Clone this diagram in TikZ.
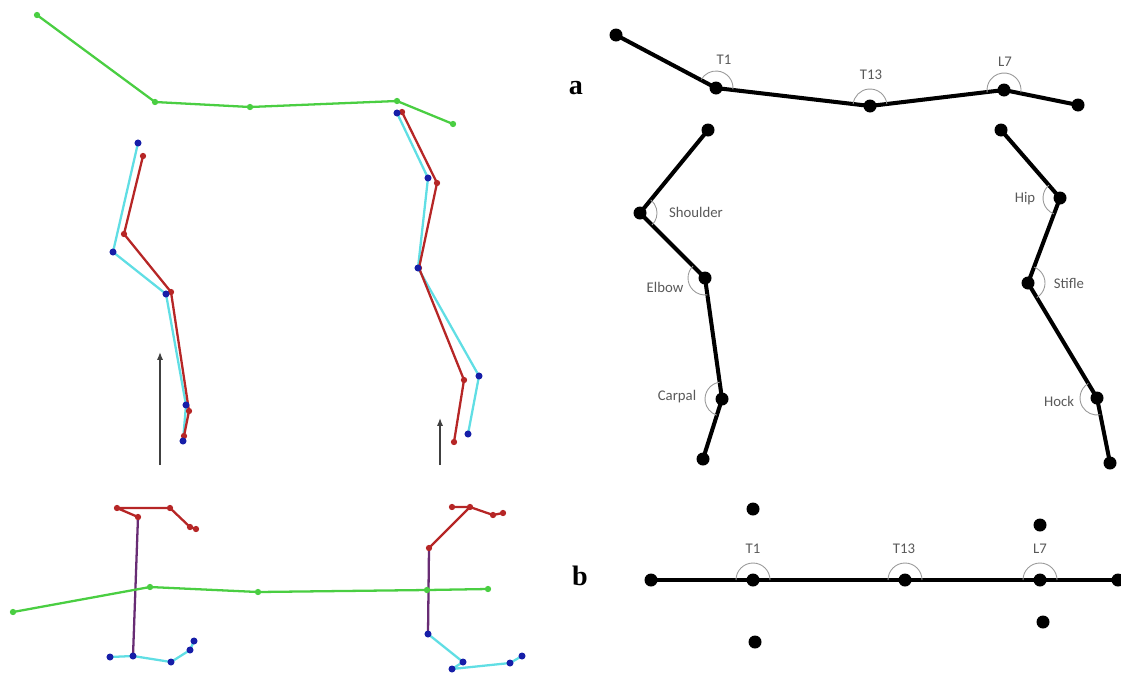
\documentclass[tikz,border=0pt]{standalone}
\usepackage{fontspec}
\newfontfamily\lblfont{Carlito}
\newfontfamily\panelfont{Liberation Serif}
\usetikzlibrary{arrows.meta}
\definecolor{spinegreen}{RGB}{74,206,66}
\definecolor{legcyan}{RGB}{96,222,228}
\definecolor{legred}{RGB}{182,38,38}
\definecolor{jointblue}{RGB}{22,30,168}
\definecolor{legpurple}{RGB}{104,44,116}

\begin{document}
\begin{tikzpicture}[x=0.02cm, y=-0.02cm,
  track/.style={line width=1.3pt, line join=round},
  bone/.style={line width=2.3pt, line join=round},
  jarc/.style={gray!80, line width=0.5pt},
  lbl/.style={font=\lblfont\fontsize{8.4}{9}\selectfont, text=black!65},
  panel/.style={font=\panelfont\fontsize{16}{16}\selectfont\bfseries},
  vert/.style={-{Latex[length=4.5pt,width=3.5pt]}, black!75, line width=0.7pt}]
\useasboundingbox (0,0) rectangle (1121,673);

% tracked markers, side view
\foreach \n/\x/\y in {g1/37/15, g2/155/102, g3/250/107, g4/397/101, g5/453/124,
    fb1/138/143, fb2/113/252, fb3/166/294, fb4/186/405, fb5/183/441,
    fr1/143/156, fr2/124/234, fr3/171/292, fr4/189/411, fr5/184/436,
    hb1/397/113, hb2/428/178, hb3/418/268, hb4/479/376, hb5/468/434,
    hr1/402/112, hr2/437/183, hr3/419/268, hr4/464/380, hr5/454/442}
  \coordinate (\n) at (\x,\y);
\draw[track, spinegreen] (g1) -- (g2) -- (g3) -- (g4) -- (g5);
\draw[track, legcyan] (fb1) -- (fb2) -- (fb3) -- (fb4) -- (fb5);
\draw[track, legcyan] (hb1) -- (hb2) -- (hb3) -- (hb4) -- (hb5);
\draw[track, legred] (fr1) -- (fr2) -- (fr3) -- (fr4) -- (fr5);
\draw[track, legred] (hr1) -- (hr2) -- (hr3) -- (hr4) -- (hr5);
\foreach \n in {g1,g2,g3,g4,g5} \fill[spinegreen] (\n) circle (1.8pt);
\foreach \n in {fr1,fr2,fr3,fr4,fr5,hr1,hr2,hr3,hr4,hr5} \fill[legred] (\n) circle (1.8pt);
\foreach \n in {fb1,fb2,fb3,fb4,fb5,hb1,hb2,hb3,hb4,hb5} \fill[jointblue] (\n) circle (2pt);

\coordinate (fa0) at (160,465); \coordinate (fa1) at (160,352);
\coordinate (ha0) at (440,465); \coordinate (ha1) at (440,418);
\draw[vert] (fa0) -- (fa1);
\draw[vert] (ha0) -- (ha1);

% tracked markers, top view
\foreach \n/\x/\y in {bg1/13/612, bg2/150/587, bg3/258/592, bg4/427/590, bg5/488/589,
    br0/138/517, br1/117/508, br2/170/508, br3/190/527, br4/196/529,
    bc0/133/656, bc1/110/657, bc2/171/662, bc3/190/650, bc4/194/641,
    qr0/429/548, qr1/452/507, qr2/470/507, qr3/493/515, qr4/503/513,
    qc0/428/634, qc1/463/662, qc2/452/669, qc3/510/663, qc4/522/656}
  \coordinate (\n) at (\x,\y);
\draw[track, legpurple] (br0) -- (bc0);
\draw[track, legpurple] (qr0) -- (qc0);
\draw[track, spinegreen] (bg1) -- (bg2) -- (bg3) -- (bg4) -- (bg5);
\draw[track, legred] (br0) -- (br1) -- (br2) -- (br3) -- (br4);
\draw[track, legred] (qr0) -- (qr2) (qr1) -- (qr2) -- (qr3) -- (qr4);
\draw[track, legcyan] (bc1) -- (bc0) -- (bc2) -- (bc3) -- (bc4);
\draw[track, legcyan] (qc0) -- (qc1) -- (qc2) -- (qc3) -- (qc4);
\foreach \n in {bg2,bg3,bg4,bg5,bg1} \fill[spinegreen] (\n) circle (1.8pt);
\foreach \n in {br0,br1,br2,br3,br4,qr0,qr1,qr2,qr3,qr4} \fill[legred] (\n) circle (1.8pt);
\foreach \n in {bc0,bc1,bc2,bc3,bc4,qc0,qc1,qc2,qc3,qc4} \fill[jointblue] (\n) circle (2pt);

% joint angle model
\foreach \n/\x/\y in {sp0/616/35, t1/716/88, t13/870/106, l7/1004/90, sp4/1078/105,
    sh0/708/130, shoulder/640/213, elbow/705/278, carpal/722/399, fore5/703/459,
    hp0/1001/130, hip/1060/198, stifle/1028/283, hock/1097/398, hind5/1110/463,
    b0/651/580, bt1/753/580, bt13/905/580, bl7/1040/580, b4/1118/580,
    bu1/753/509, bd1/755/642, bu7/1040/525, bd7/1043/622}
  \coordinate (\n) at (\x,\y);
\draw[bone] (sp0) -- (t1) -- (t13) -- (l7) -- (sp4);
\draw[bone] (sh0) -- (shoulder) -- (elbow) -- (carpal) -- (fore5);
\draw[bone] (hp0) -- (hip) -- (stifle) -- (hock) -- (hind5);
\draw[bone] (b0) -- (bt1) -- (bt13) -- (bl7) -- (b4);
\foreach \n in {sp0,t1,t13,l7,sp4,sh0,shoulder,elbow,carpal,fore5,hp0,hip,stifle,hock,hind5,
    b0,bt1,bt13,bl7,b4,bu1,bd1,bu7,bd7}
  \fill (\n) circle (3.7pt);

% angle arcs (y axis points down, so angles are mirrored)
\foreach \j/\a/\b in {t1/5/-150, t13/-7/-173, l7/8/-188,
    bt1/0/-180, bt13/0/-180, bl7/0/-180,
    shoulder/45/-51, elbow/-135/-278, carpal/-98/-252,
    hip/-131/-249, stifle/59/-69, hock/-121/-281}
  \draw[jarc] (\j) ++(\a:17) arc[start angle=\a, end angle=\b, radius=17];

\node[lbl] (lt1) at (724,60) {T1};
\node[lbl] (lt13) at (871,75) {T13};
\node[lbl] (ll7) at (1005,62) {L7};
\node[lbl] (lbt1) at (753,549) {T1};
\node[lbl] (lbt13) at (904,549) {T13};
\node[lbl] (lbl7) at (1040,549) {L7};
\node[lbl] (lsh) at (696,212) {Shoulder};
\node[lbl] (lel) at (665,287) {Elbow};
\node[lbl] (lca) at (677,397) {Carpal};
\node[lbl] (lhi) at (1025,199) {Hip};
\node[lbl] (lst) at (1069,283) {Stifle};
\node[lbl] (lho) at (1059,401) {Hock};

\node[panel] (pa) at (576,88) {a};
\node[panel] (pb) at (580,576) {b};
\end{tikzpicture}
\end{document}
